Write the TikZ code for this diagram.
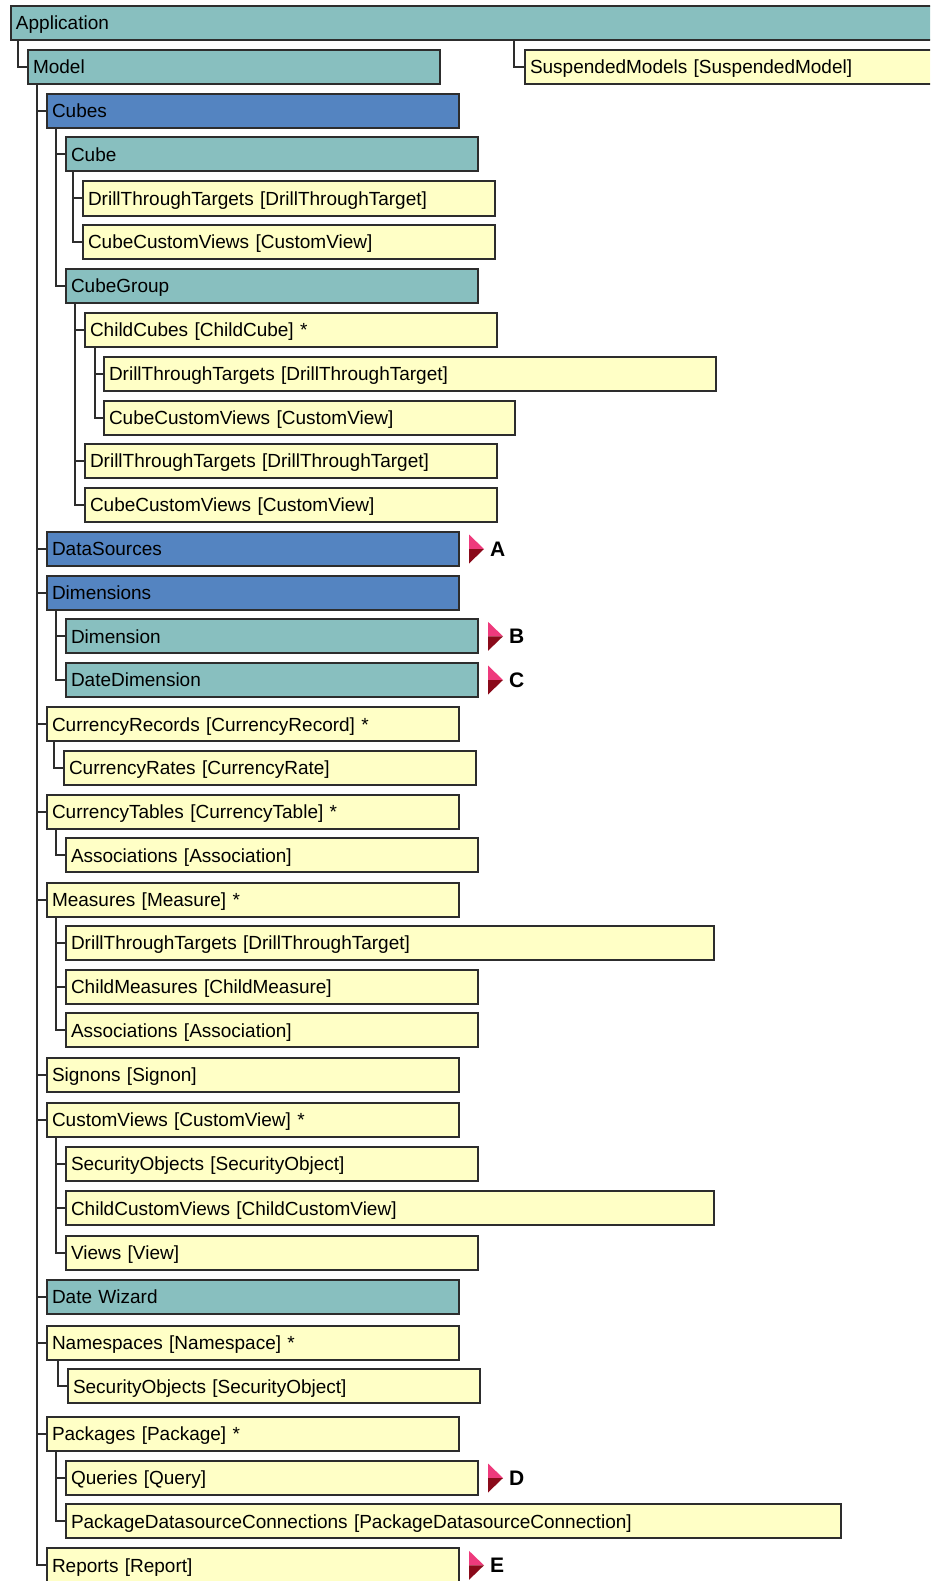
\documentclass[tikz,border=0pt]{standalone}
\usepackage{fontspec}
\setmainfont{Liberation Sans}
\definecolor{cteal}{HTML}{88BFBF}
\definecolor{cblue}{HTML}{5484C1}
\definecolor{cyel}{HTML}{FFFFC6}
\definecolor{cline}{HTML}{2D2D2D}
\definecolor{cpink}{HTML}{EE3A7C}
\definecolor{cdred}{HTML}{8A0A1A}
\begin{document}
\begin{tikzpicture}[x=1pt,y=-1pt,
  tbox/.style={draw=cline, line width=2pt, anchor=west, minimum height=34pt,
    inner xsep=5pt, inner ysep=0pt, text height=13.6pt, text depth=0pt,
    font=\fontsize{19}{22}\selectfont},
  wd/.code={\pgfmathsetmacro\tw{#1-10}\edef\tmp{\noexpand\tikzset{minimum width=#1pt, text width=\tw pt}}\tmp},
  tb/.style={tbox, fill=cteal, wd=#1},
  bb/.style={tbox, fill=cblue, wd=#1},
  yb/.style={tbox, fill=cyel, wd=#1},
  conn/.style={draw=cline, line width=2pt},
  lett/.style={anchor=west, inner sep=0pt, text height=15pt, text depth=0pt,
    font=\fontsize{21}{24}\selectfont\bfseries}]
\useasboundingbox (0,0) rectangle (930,1581);
\clip (0,0) rectangle (930,1581);

% nodes
\node[tb=940] (App) at (10,23) {Application};
\node[yb=420] (SM) at (524,67) {SuspendedModels [SuspendedModel]};
\node[tb=412] (Model) at (27,67) {Model};
\node[bb=412] (Cubes) at (46,111) {Cubes};
\node[tb=412] (Cube) at (65,154.5) {Cube};
\node[yb=412] (dtt1) at (82,198.5) {DrillThroughTargets [DrillThroughTarget]};
\node[yb=412] (ccv1) at (82,242) {CubeCustomViews [CustomView]};
\node[tb=412] (CubeGroup) at (65,286) {CubeGroup};
\node[yb=412] (ChildCubes) at (84,329.7) {ChildCubes [ChildCube] *};
\node[yb=612] (dtt2) at (103,373.7) {DrillThroughTargets [DrillThroughTarget]};
\node[yb=411] (ccv2) at (103,417.7) {CubeCustomViews [CustomView]};
\node[yb=412] (dtt3) at (84,461) {DrillThroughTargets [DrillThroughTarget]};
\node[yb=412] (ccv3) at (84,504.7) {CubeCustomViews [CustomView]};
\node[bb=412] (DataSources) at (46,549) {DataSources};
\node[bb=412] (Dimensions) at (46,592.5) {Dimensions};
\node[tb=412] (Dimension) at (65,636.3) {Dimension};
\node[tb=412] (DateDimension) at (65,680) {DateDimension};
\node[yb=412] (CurrRec) at (46,724.2) {CurrencyRecords [CurrencyRecord] *};
\node[yb=412] (CurrRates) at (63,768) {CurrencyRates [CurrencyRate]};
\node[yb=412] (CurrTables) at (46,811.7) {CurrencyTables [CurrencyTable] *};
\node[yb=412] (assoc1) at (65,855.3) {Associations [Association]};
\node[yb=412] (Measures) at (46,899.5) {Measures [Measure] *};
\node[yb=648] (dtt4) at (65,942.5) {DrillThroughTargets [DrillThroughTarget]};
\node[yb=412] (ChildMeas) at (65,986.5) {ChildMeasures [ChildMeasure]};
\node[yb=412] (assoc2) at (65,1030.3) {Associations [Association]};
\node[yb=412] (Signons) at (46,1074.5) {Signons [Signon]};
\node[yb=412] (CustomViews) at (46,1120) {CustomViews [CustomView] *};
\node[yb=412] (secobj1) at (65,1163.7) {SecurityObjects [SecurityObject]};
\node[yb=648] (ChildCV) at (65,1208.2) {ChildCustomViews [ChildCustomView]};
\node[yb=412] (Views) at (65,1253) {Views [View]};
\node[tb=412] (DateWizard) at (46,1297) {Date Wizard};
\node[yb=412] (Namespaces) at (46,1342.5) {Namespaces [Namespace] *};
\node[yb=412] (secobj2) at (67,1386.3) {SecurityObjects [SecurityObject]};
\node[yb=412] (Packages) at (46,1433.7) {Packages [Package] *};
\node[yb=412] (Queries) at (65,1478) {Queries [Query]};
\node[yb=775] (PDC) at (65,1521.3) {PackageDatasourceConnections [PackageDatasourceConnection]};
\node[yb=412] (Reports) at (46,1565.3) {Reports [Report]};

% connectors
\draw[conn] ([xshift=8pt]App.south west) |- (Model.west);
\draw[conn] ([xshift=-10pt]SM.west |- App.south) |- (SM.west);
\foreach \c in {Cubes,DataSources,Dimensions,CurrRec,CurrTables,Measures,Signons,CustomViews,DateWizard,Namespaces,Packages,Reports}
  \draw[conn] ([xshift=10pt]Model.south west) |- (\c.west);
\foreach \c in {Cube,CubeGroup}
  \draw[conn] ([xshift=10pt]Cubes.south west) |- (\c.west);
\foreach \c in {dtt1,ccv1}
  \draw[conn] ([xshift=8pt]Cube.south west) |- (\c.west);
\foreach \c in {ChildCubes,dtt3,ccv3}
  \draw[conn] ([xshift=10pt]CubeGroup.south west) |- (\c.west);
\foreach \c in {dtt2,ccv2}
  \draw[conn] ([xshift=11pt]ChildCubes.south west) |- (\c.west);
\foreach \c in {Dimension,DateDimension}
  \draw[conn] ([xshift=10pt]Dimensions.south west) |- (\c.west);
\draw[conn] ([xshift=8pt]CurrRec.south west) |- (CurrRates.west);
\draw[conn] ([xshift=10pt]CurrTables.south west) |- (assoc1.west);
\foreach \c in {dtt4,ChildMeas,assoc2}
  \draw[conn] ([xshift=10pt]Measures.south west) |- (\c.west);
\foreach \c in {secobj1,ChildCV,Views}
  \draw[conn] ([xshift=10pt]CustomViews.south west) |- (\c.west);
\draw[conn] ([xshift=12pt]Namespaces.south west) |- (secobj2.west);
\foreach \c in {Queries,PDC}
  \draw[conn] ([xshift=10pt]Packages.south west) |- (\c.west);

% markers
\foreach \n/\l in {DataSources/A,Dimension/B,DateDimension/C,Queries/D,Reports/E}{
  \fill[cpink] ([xshift=9pt]\n.east) -- ++(0,-14.5) -- ++(15,14.5) -- cycle;
  \fill[cdred] ([xshift=9pt]\n.east) -- ++(0,14.5) -- ++(15,-14.5) -- cycle;
  \node[lett] (m\l) at ([xshift=30pt]\n.east) {\l};
}
\end{tikzpicture}
\end{document}
